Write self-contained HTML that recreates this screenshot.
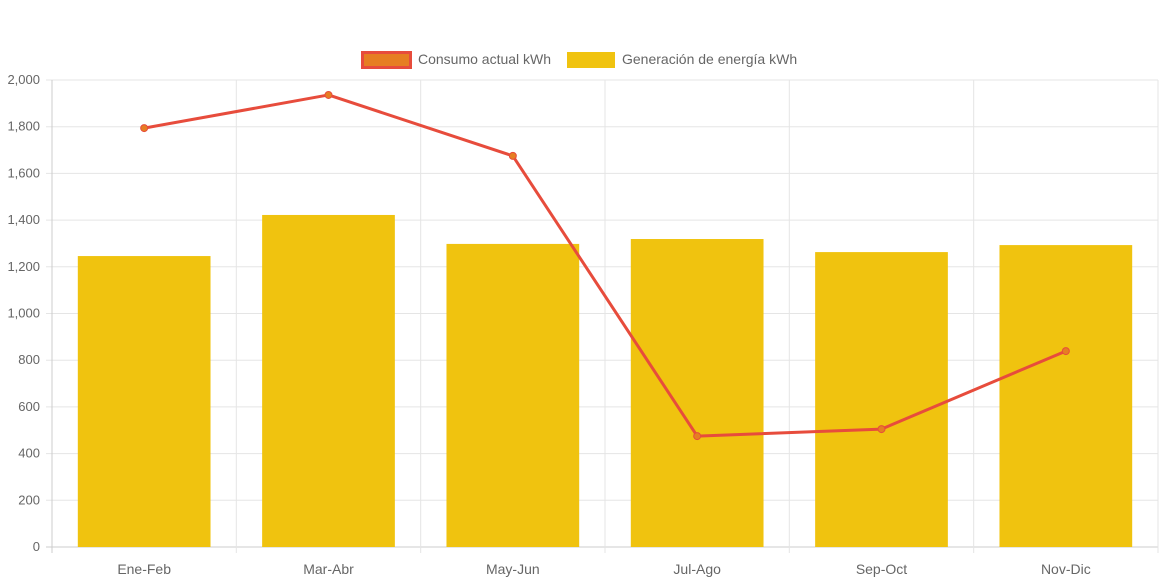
<!DOCTYPE html>
<html><head><meta charset="utf-8"><style>
body{margin:0;background:#fff;width:1165px;height:582px;overflow:hidden;font-family:"Liberation Sans",sans-serif}
</style></head><body>
<svg id="chart" width="1165" height="582" xmlns="http://www.w3.org/2000/svg"></svg>
<script>
const categories=["Ene-Feb","Mar-Abr","May-Jun","Jul-Ago","Sep-Oct","Nov-Dic"];
const generacion=[1246,1422,1298,1319,1263,1293];
const consumo=[1794,1936,1675,475,505,839];
const yTicks=[0,200,400,600,800,1000,1200,1400,1600,1800,2000];
const yTickLabels=["0","200","400","600","800","1,000","1,200","1,400","1,600","1,800","2,000"];
const svg=document.getElementById('chart');
const NS="http://www.w3.org/2000/svg";
const L=52,R=1158,T=80,B=547,YMAX=2000;
const cw=(R-L)/categories.length;
function y(v){return B-(v/YMAX)*(B-T);}
function xc(i){return L+cw*i+cw/2;}
function mk(tag,attrs,parent){const e=document.createElementNS(NS,tag);for(const k in attrs)e.setAttribute(k,attrs[k]);(parent||svg).appendChild(e);return e;}
// grid
yTicks.forEach((t,i)=>{
  const g=mk('line',{x1:L-6,x2:R,y1:y(t),y2:y(t),stroke:i===0?'#ccc':'#e5e5e5','stroke-width':1});
  
  
  const tx=mk('text',{x:L-12,y:y(t)+4,'text-anchor':'end','font-size':13,fill:'#666'});
  tx.textContent=yTickLabels[i];
  
  
});
for(let i=0;i<=categories.length;i++){
  const x=L+cw*i;
  const g=mk('line',{x1:x,x2:x,y1:T,y2:B+6,stroke:i===0?'#ccc':'#e5e5e5','stroke-width':1});
  
  
}
// bars
categories.forEach((c,i)=>{
  const bw=cw*0.72;
  const b=mk('rect',{x:xc(i)-bw/2,y:y(generacion[i]),width:bw,height:B-y(generacion[i]),fill:'#f0c30f'});
  
  
  const tx=mk('text',{x:xc(i),y:574,'text-anchor':'middle','font-size':14,fill:'#666'});
  tx.textContent=c;
  
  
});
// line
const pts=consumo.map((v,i)=>xc(i)+','+y(v)).join(' ');
const pl=mk('polyline',{points:pts,fill:'none',stroke:'#e74c3c','stroke-width':3,'stroke-linejoin':'round'});


consumo.forEach((v,i)=>{
  const p=mk('circle',{cx:xc(i),cy:y(v),r:3.5,fill:'#e67e22',stroke:'#e74c3c','stroke-width':1});
  
  
});
// legend
const lg=mk('g',{});


const r1=mk('rect',{x:362.5,y:52.5,width:48,height:15,fill:'#e67e22',stroke:'#e74c3c','stroke-width':3},lg);


const t1=mk('text',{x:418,y:64,'font-size':14,fill:'#666'},lg);t1.textContent='Consumo actual kWh';


const r2=mk('rect',{x:567,y:52,width:48,height:16,fill:'#f0c30f'},lg);


const t2=mk('text',{x:622,y:64,'font-size':14,fill:'#666'},lg);t2.textContent='Generación de energía kWh';


</script>
</body></html>
